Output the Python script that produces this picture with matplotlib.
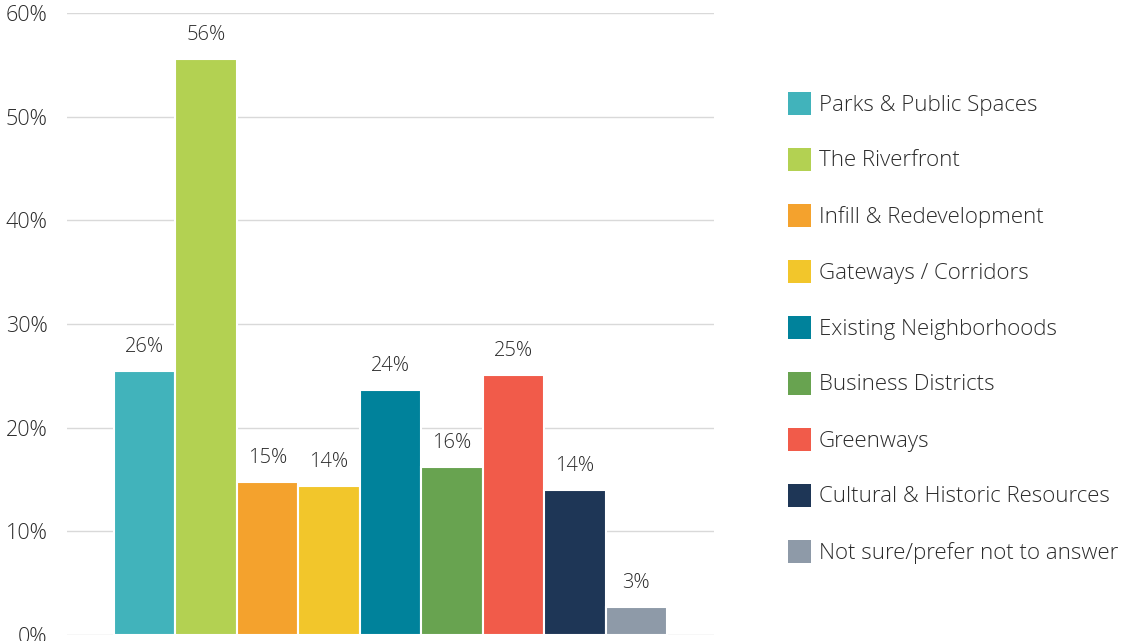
import matplotlib
matplotlib.use("Agg")
import matplotlib.pyplot as plt
from matplotlib.patches import Rectangle

categories = [
    "Parks & Public Spaces",
    "The Riverfront",
    "Infill & Redevelopment",
    "Gateways / Corridors",
    "Existing Neighborhoods",
    "Business Districts",
    "Greenways",
    "Cultural & Historic Resources",
    "Not sure/prefer not to answer",
]
values = [25.5, 55.6, 14.8, 14.4, 23.6, 16.2, 25.1, 14.0, 2.7]
colors = ["#41B3BB", "#B3D152", "#F4A22D", "#F2C62B", "#00829B",
          "#68A350", "#F15B4A", "#1E3656", "#8E9AA8"]
yticks = [0, 10, 20, 30, 40, 50, 60]

FONT = ["Open Sans", "DejaVu Sans"]
TEXT = "#2B2B2B"

W, H = 1130, 641
fig = plt.figure(figsize=(W / 100, H / 100), dpi=100)
ax = fig.add_axes([67 / W, 1 - 635 / H, (714 - 67) / W, (635 - 13) / H])

x = list(range(len(values)))
ax.bar(x, values, width=1.0, color=colors, edgecolor="white", linewidth=1.5, zorder=3)

for xi, v in zip(x, values):
    ax.annotate(f"{v:.0f}%", (xi, v), xytext=(0, 10), textcoords="offset points",
                ha="center", va="bottom", fontsize=14.5, color=TEXT,
                family=FONT, fontweight="light")

ax.set_xlim(-1.265, 9.265)
ax.set_ylim(0, 60)
ax.set_yticks(yticks)
ax.set_yticklabels([f"{t}%" for t in yticks], family=FONT, fontsize=15.5,
                   color=TEXT, fontweight="light")
ax.tick_params(axis="y", length=0, pad=14)
ax.set_xticks([])
ax.grid(axis="y", color="#D9D9D9", linewidth=1, zorder=0)
for s in ax.spines.values():
    s.set_visible(False)

# legend column on the right
for i, (lab, c) in enumerate(zip(categories, colors)):
    yc = 103 + i * 56
    fig.add_artist(Rectangle((788 / W, 1 - (yc + 12) / H), 23 / W, 23 / H,
                             transform=fig.transFigure, facecolor=c, edgecolor="none"))
    fig.text(819 / W, 1 - (yc + 2) / H, lab, ha="left", va="center", fontsize=16,
             color=TEXT, family=FONT, fontweight="light")

fig.savefig("out.png", dpi=100)
